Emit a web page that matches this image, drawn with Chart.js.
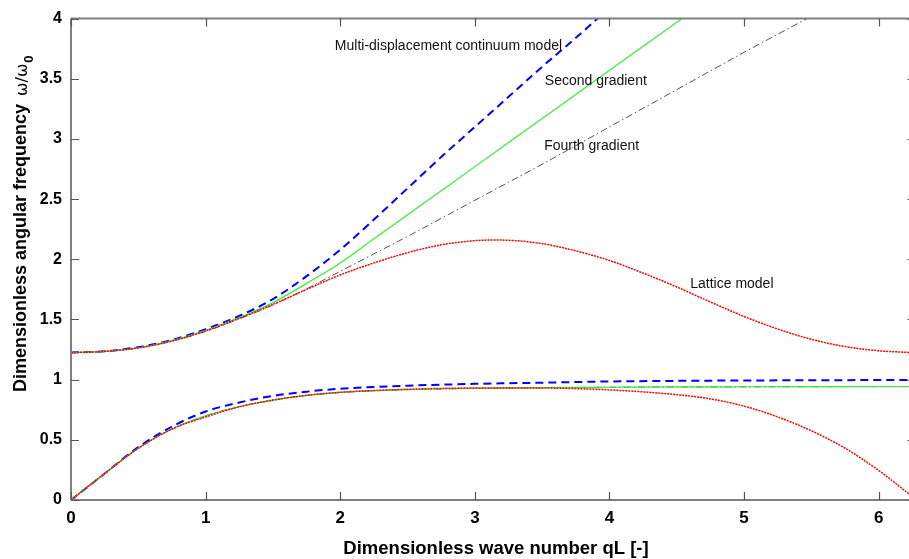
<!DOCTYPE html>
<html><head><meta charset="utf-8">
<script src="https://cdn.jsdelivr.net/npm/chart.js@4.4.1/dist/chart.umd.min.js"></script>
<style>html,body{margin:0;padding:0;background:#fff;overflow:hidden}#wrap{width:909px;height:559px;position:relative}</style>
</head><body><div id="wrap"><canvas id="c" width="909" height="559"></canvas></div>
<script>
const xTicks = [0,1,2,3,4,5,6];
const yTicks = [0,0.5,1,1.5,2,2.5,3,3.5,4];
const xTitle = 'Dimensionless wave number qL [-]';
const yTitle = 'Dimensionless angular frequency ';

// Lattice model
const qLatOpt = [0,0.25,0.5,0.75,1,1.25,1.5,1.75,2,2.25,2.5,2.75,3,3.14,3.25,3.5,3.75,4,4.25,4.5,4.75,5,5.25,5.5,5.75,6,6.225];
const wLatOpt = [1.225,1.235,1.264,1.32,1.405,1.51,1.625,1.75,1.87,1.97,2.055,2.12,2.155,2.16,2.158,2.13,2.07,1.99,1.885,1.77,1.645,1.525,1.42,1.335,1.275,1.24,1.226];
const qLatAc = [0,0.25,0.5,0.75,1,1.25,1.5,1.75,2,2.5,3,3.14,3.5,4,4.5,4.75,5,5.25,5.5,5.75,6,6.225];
const wLatAc = [0,0.22,0.43,0.59,0.69,0.775,0.83,0.87,0.895,0.92,0.93,0.93,0.93,0.915,0.875,0.84,0.78,0.69,0.575,0.43,0.245,0.05];

// Continuum models, acoustic branch
const qAc = [0,0.25,0.5,0.75,1,1.25,1.5,1.75,2,2.5,3,3.5,4,4.5,5,5.5,6,6.225];
const wSecAc = [0,0.22,0.43,0.59,0.70,0.775,0.83,0.87,0.895,0.918,0.928,0.934,0.937,0.94,0.941,0.942,0.943,0.943];
const wFourAc = [0,0.22,0.43,0.59,0.70,0.775,0.83,0.868,0.893,0.916,0.927,0.933,0.937,0.939,0.94,0.941,0.942,0.942];
const wMultiAc = [0,0.22,0.44,0.61,0.735,0.81,0.865,0.90,0.925,0.95,0.965,0.975,0.985,0.99,0.993,0.995,0.997,0.998];

// Continuum models, optical branch
const qMultiOpt = [0,0.25,0.5,0.75,1,1.25,1.5,1.75,2,2.25,2.5,2.75,3,3.25,3.5,3.75,3.93];
const wMultiOpt = [1.225,1.235,1.27,1.33,1.42,1.53,1.67,1.86,2.08,2.33,2.59,2.85,3.10,3.35,3.60,3.84,4.02];
const qSecOpt = [0,0.25,0.5,0.75,1,1.25,1.5,1.75,2,2.25,2.5,2.75,3,3.25,3.5,3.75,4,4.25,4.55];
const wSecOpt = [1.225,1.235,1.265,1.325,1.41,1.515,1.64,1.80,1.97,2.17,2.37,2.57,2.77,2.97,3.17,3.37,3.57,3.77,4.01];
const qFourOpt = [0,0.25,0.5,0.75,1,1.25,1.5,1.75,2,2.25,2.5,2.75,3,3.25,3.5,3.75,4,4.25,4.5,4.75,5,5.25,5.5];
const wFourOpt = [1.225,1.235,1.264,1.322,1.40,1.505,1.62,1.755,1.90,2.045,2.19,2.34,2.49,2.64,2.79,2.945,3.10,3.255,3.41,3.565,3.72,3.87,4.02];

const labels = [
  {text:'Multi-displacement continuum model', x:1.96, y:3.77},
  {text:'Second gradient', x:3.52, y:3.48},
  {text:'Fourth gradient', x:3.515, y:2.94},
  {text:'Lattice model', x:4.60, y:1.79}
];

const pts = (qs, ws) => qs.map((q,i)=>({x:q, y:ws[i]}));
const styles = {
  lat:  {borderColor:'#ff0000', borderWidth:1.5, borderDash:[2,1]},
  sec:  {borderColor:'#33ee33', borderWidth:1.2, borderDash:[]},
  four: {borderColor:'#505050', borderWidth:1, borderDash:[7,3,1.5,3]},
  multi:{borderColor:'#0000ff', borderWidth:2, borderDash:[8,5]}
};
function ds(name, qs, ws, st){
  return Object.assign({label:name, data:pts(qs,ws), pointRadius:0, fill:false, tension:0.35, cubicInterpolationMode:'monotone'}, st);
}

const frame = {
  id:'frame',
  afterDraw(chart){
    const {ctx, chartArea:a, scales:{x, y}} = chart;
    ctx.save();
    ctx.strokeStyle = '#7f7f7f';
    ctx.lineWidth = 2;
    ctx.beginPath();
    ctx.moveTo(a.left, a.top); ctx.lineTo(a.right, a.top);
    ctx.moveTo(a.left, a.top); ctx.lineTo(a.left, a.bottom);
    ctx.moveTo(a.left, a.bottom); ctx.lineTo(a.right, a.bottom);
    ctx.stroke();
    ctx.lineWidth = 1.2;
    ctx.strokeStyle = '#555';
    ctx.beginPath();
    xTicks.forEach(v=>{ const px = Math.round(x.getPixelForValue(v))+0.5;
      ctx.moveTo(px, a.bottom); ctx.lineTo(px, a.bottom-8);
      ctx.moveTo(px, a.top); ctx.lineTo(px, a.top+8); });
    yTicks.forEach(v=>{ const py = Math.round(y.getPixelForValue(v))+0.5;
      ctx.moveTo(a.left, py); ctx.lineTo(a.left+8, py);
      ctx.moveTo(a.right, py); ctx.lineTo(a.right-1.5, py); });
    ctx.stroke();
    // annotation labels
    ctx.fillStyle = '#111';
    ctx.font = '14px "Liberation Sans", Arial, sans-serif';
    ctx.textBaseline = 'middle';
    ctx.textAlign = 'left';
    labels.forEach(l=> ctx.fillText(l.text, x.getPixelForValue(l.x), y.getPixelForValue(l.y)));
    // x title
    ctx.font = 'bold 18.5px "Liberation Sans", Arial, sans-serif';
    ctx.textAlign = 'center';
    ctx.fillStyle = '#000';
    ctx.fillText(xTitle, 496, 549);
    // y title
    ctx.translate(21, 392);
    ctx.rotate(-Math.PI/2);
    ctx.textAlign = 'left';
    ctx.font = 'bold 18px "Liberation Sans", Arial, sans-serif';
    ctx.fillText(yTitle, 0, 0);
    let w = ctx.measureText(yTitle).width + 3;
    ctx.font = '16px "DejaVu Sans", sans-serif';
    ctx.fillText('\u03C9/\u03C9', w, 2);
    w += ctx.measureText('\u03C9/\u03C9').width + 1;
    ctx.font = 'bold 13px "Liberation Sans", Arial, sans-serif';
    ctx.fillText('0', w, 8);
    ctx.restore();
  }
};

new Chart(document.getElementById('c'), {
  type:'line',
  data:{datasets:[
    ds('Lattice model (optical)', qLatOpt, wLatOpt, styles.lat),
    ds('Lattice model (acoustic)', qLatAc, wLatAc, styles.lat),
    ds('Second gradient (optical)', qSecOpt, wSecOpt, styles.sec),
    ds('Second gradient (acoustic)', qAc, wSecAc, styles.sec),
    ds('Fourth gradient (optical)', qFourOpt, wFourOpt, styles.four),
    ds('Fourth gradient (acoustic)', qAc, wFourAc, styles.four),
    ds('Multi-displacement continuum model (optical)', qMultiOpt, wMultiOpt, styles.multi),
    ds('Multi-displacement continuum model (acoustic)', qAc, wMultiAc, styles.multi)
  ]},
  options:{
    responsive:false, animation:false, events:[],
    layout:{padding:{top:15, right:0, left:0, bottom:0}},
    plugins:{legend:{display:false}, tooltip:{enabled:false}},
    scales:{
      x:{type:'linear', min:0, max:6.225, border:{display:false},
         grid:{display:false, drawTicks:false},
         afterBuildTicks:s=>{s.ticks = xTicks.map(v=>({value:v}));},
         afterFit:s=>{s.height = 59;},
         ticks:{padding:8, color:'#000', font:{family:'"Liberation Sans", Arial, sans-serif', size:17, weight:'bold'}, maxRotation:0, autoSkip:false, callback:v=>String(v)}},
      y:{type:'linear', min:0, max:4, border:{display:false},
         grid:{display:false, drawTicks:false},
         afterBuildTicks:s=>{s.ticks = yTicks.map(v=>({value:v}));},
         afterFit:s=>{s.width = 71;},
         ticks:{padding:9, color:'#000', font:{family:'"Liberation Sans", Arial, sans-serif', size:16, weight:'bold'}, autoSkip:false, callback:v=>String(v)}}
    }
  },
  plugins:[frame]
});
</script></body></html>
